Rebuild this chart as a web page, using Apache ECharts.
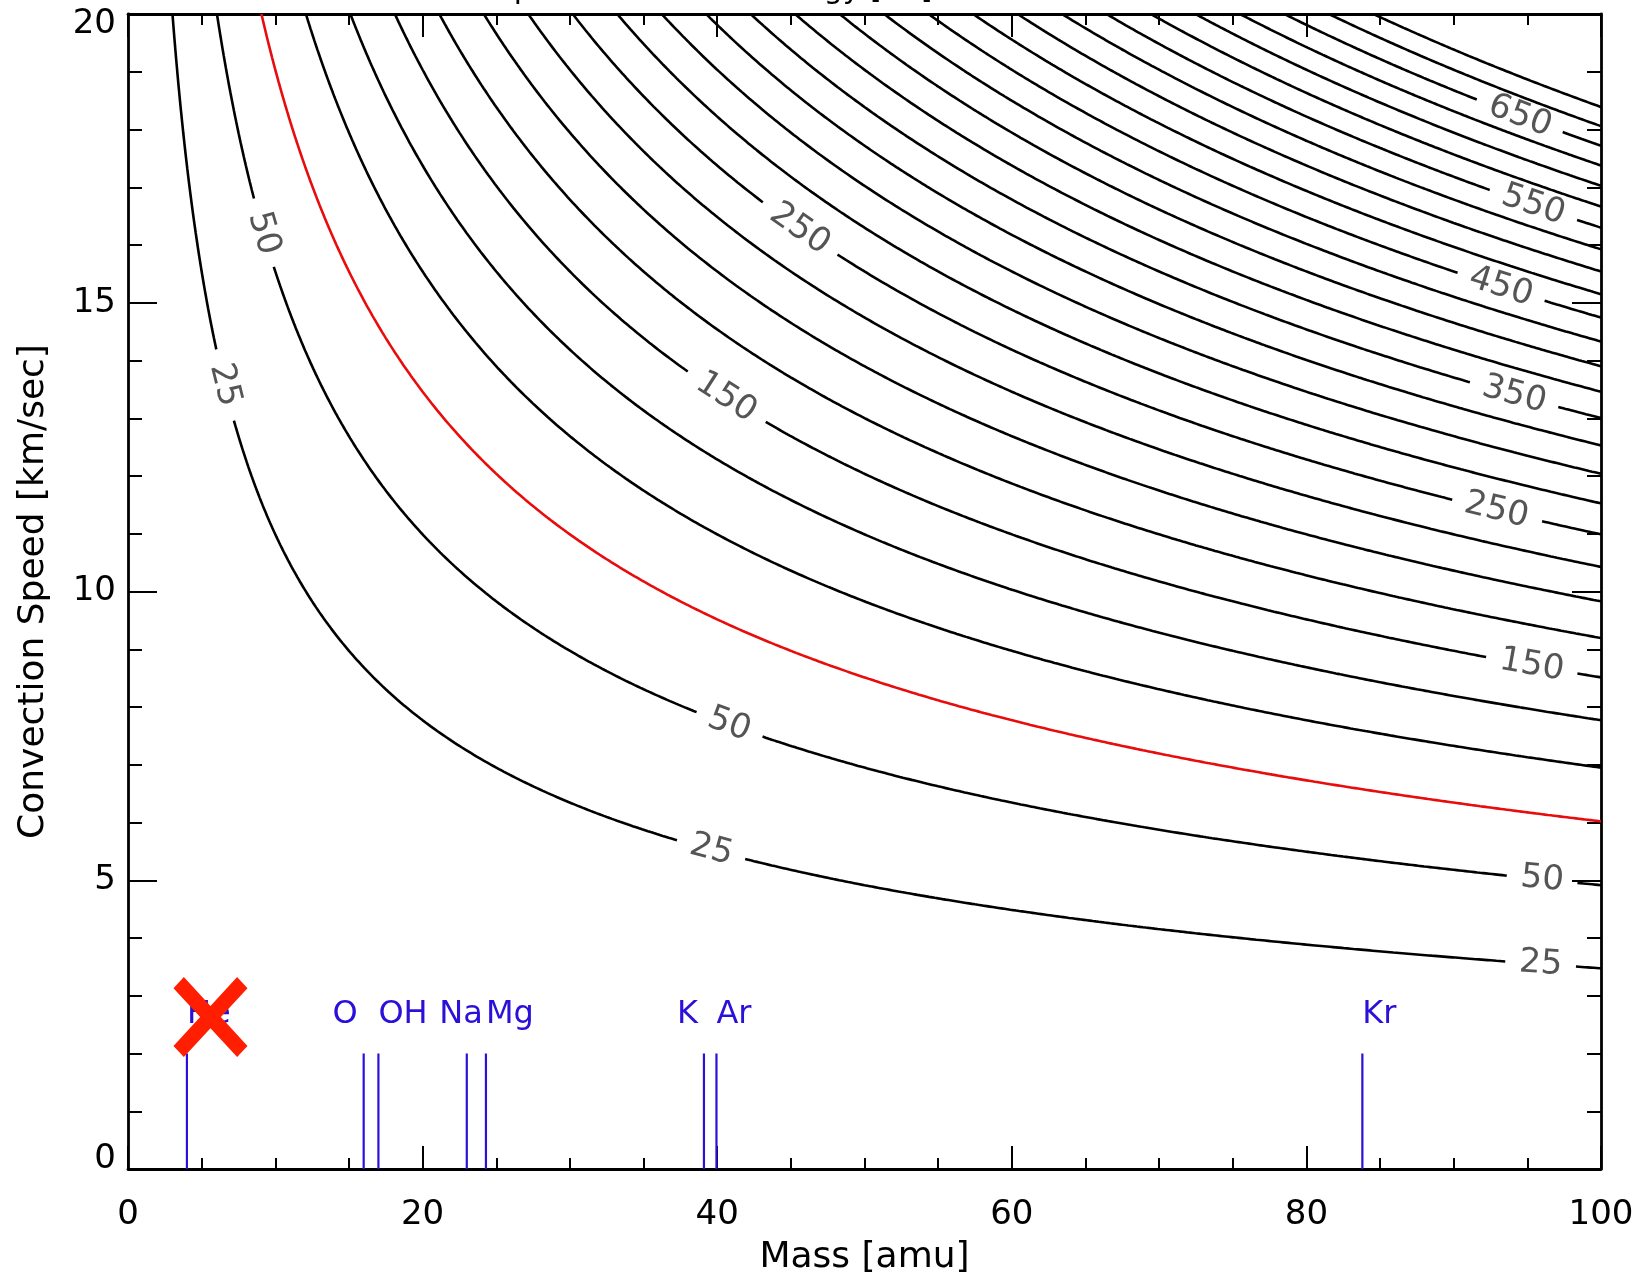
<!DOCTYPE html>
<html><head><meta charset="utf-8">
<script src="https://cdn.jsdelivr.net/npm/echarts@6/dist/echarts.min.js"></script>
<style>html,body{margin:0;padding:0;background:#fff;}#c{width:1651px;height:1283px;}</style>
</head><body><div id="c"></div>
<script>
// ---------------- data ----------------
const xTickValues = [0, 20, 40, 60, 80, 100];
const yTickValues = [0, 5, 10, 15, 20];
// contour levels (energy, eV): step 25, 25..700
const contourLevels = [25, 50, 75, 100, 125, 150, 175, 200, 225, 250, 275, 300, 325, 350,
  375, 400, 425, 450, 475, 500, 525, 550, 575, 600, 625, 650, 675, 700];
const highlightLevel = 75;            // drawn in red
const energyPerAmuKms2 = 0.0207;      // E = k * m * v^2 (fitted from curve positions)
// contour labels: level and the mass where the label sits
const contourLabelLevels = [25, 50, 25, 50, 150, 250, 25, 50, 150, 250, 350, 450, 550, 650];
const contourLabelMass   = [6.55, 9.2, 39.6, 40.8, 40.6, 45.6, 95.9, 96.0, 95.3, 92.9, 94.1, 93.2, 95.4, 94.5];
// species markers
const speciesNames = ['He', 'O', 'OH', 'Na', 'Mg', 'K', 'Ar', 'Kr'];
const speciesMass  = [4.0, 16.0, 17.0, 23.0, 24.3, 39.1, 39.95, 83.8];
const speciesLineTop = 2;             // km/s
const speciesLabelSpeed = 2.68;       // km/s
const heCross = [5.6, 2.63];          // red cross drawn over the He label
const topTitle = 'Pickup Ion Maximum Energy [eV]';

// ---------------- styles ----------------
const speciesAlign  = ['left', 'right', 'left', 'right', 'left', 'right', 'left', 'left'];
const speciesOffset = [0, -6, 0, 16, 0, -6, 0, 0];
const BLUE = '#2a10d8';
const RED = '#e80c0c';
const FONT = 'DejaVu Sans';

const chart = echarts.init(document.getElementById('c'));
const xMin = xTickValues[0], xMax = xTickValues[xTickValues.length - 1];
const yMin = yTickValues[0], yMax = yTickValues[yTickValues.length - 1];
const xInt = xTickValues[1] - xTickValues[0], yInt = yTickValues[1] - yTickValues[0];

function axisBase(extra) {
  return Object.assign({
    type: 'value',
    axisLine: { show: true, onZero: false, lineStyle: { color: '#000', width: 2.8 } },
    splitLine: { show: false }
  }, extra);
}
const tickStyle = { color: '#000', width: 2 };
const baseOption = {
  animation: false,
  backgroundColor: '#fff',
  grid: { left: 128, right: 50, top: 14, bottom: 114, containLabel: false, outerBoundsMode: 'none' },
  xAxis: [
    axisBase({
      min: xMin, max: xMax, interval: xInt, position: 'bottom',
      axisTick: { show: true, inside: true, length: 23, lineStyle: tickStyle },
      minorTick: { show: true, splitNumber: 4, length: 11, lineStyle: tickStyle },
      axisLabel: { show: true, fontSize: 34, fontFamily: FONT, color: '#000', margin: 29 },
      name: 'Mass [amu]', nameLocation: 'middle', nameGap: 71,
      nameTextStyle: { fontSize: 36, fontFamily: FONT, color: '#000' }
    }),
    axisBase({
      min: xMin, max: xMax, interval: xInt, position: 'top',
      axisTick: { show: true, inside: true, length: 23, lineStyle: tickStyle },
      minorTick: { show: true, splitNumber: 4, length: 11, lineStyle: tickStyle },
      axisLabel: { show: false }
    })
  ],
  yAxis: [
    axisBase({
      min: yMin, max: yMax, interval: yInt, position: 'left',
      axisTick: { show: true, inside: true, length: 29, lineStyle: tickStyle },
      minorTick: { show: true, splitNumber: 5, length: 14, lineStyle: tickStyle },
      axisLabel: { show: true, fontSize: 34, fontFamily: FONT, color: '#000', margin: 12, lineHeight: 20,
        verticalAlignMaxLabel: 'top', verticalAlignMinLabel: 'bottom' },
      name: 'Convection Speed [km/sec]', nameLocation: 'middle', nameRotate: 90, nameGap: 76,
      nameTextStyle: { fontSize: 36, fontFamily: FONT, color: '#000' }
    }),
    axisBase({
      min: yMin, max: yMax, interval: yInt, position: 'right',
      axisTick: { show: true, inside: true, length: 29, lineStyle: tickStyle },
      minorTick: { show: true, splitNumber: 5, length: 14, lineStyle: tickStyle },
      axisLabel: { show: false }
    })
  ],
  series: []
};
chart.setOption(baseOption);

// pixel scale for label placement / gaps
const p0 = chart.convertToPixel({ gridIndex: 0 }, [xMin, yMin]);
const p1 = chart.convertToPixel({ gridIndex: 0 }, [xMax, yMax]);
const sx = (p1[0] - p0[0]) / (xMax - xMin), sy = (p0[1] - p1[1]) / (yMax - yMin);
const toPx = (m, v) => [p0[0] + (m - xMin) * sx, p0[1] - (v - yMin) * sy];
const speed = (E, m) => Math.sqrt(E / (energyPerAmuKms2 * m));

const LABEL_FS = 34;
const labels = contourLabelLevels.map((lev, i) => {
  const m = contourLabelMass[i], v = speed(lev, m);
  const a = toPx(m * 0.995, speed(lev, m * 0.995)), b = toPx(m * 1.005, speed(lev, m * 1.005));
  const ang = Math.atan2(b[1] - a[1], b[0] - a[0]);
  const nd = String(lev).length;
  return { lev, m, v, px: toPx(m, v), rot: -ang * 180 / Math.PI, r: nd * 0.636 * LABEL_FS / 2 + 13 };
});

function sampleMasses(mStart, mEnd) {
  const s = new Set();
  const N = 500;
  for (let i = 0; i <= N; i++) s.add(+(mStart * Math.pow(mEnd / mStart, i / N)).toFixed(5));
  for (let m = Math.ceil(mStart * 10) / 10; m <= mEnd + 1e-9; m += 0.1) s.add(+m.toFixed(5));
  return Array.from(s).sort((a, b) => a - b);
}

const series = [];
contourLevels.forEach(lev => {
  const mStart = lev / (energyPerAmuKms2 * yMax * yMax);
  const mine = labels.filter(l => l.lev === lev);
  const data = sampleMasses(mStart, xMax).map(m => {
    const v = speed(lev, m);
    const q = toPx(m, v);
    for (const l of mine) {
      if (Math.hypot(q[0] - l.px[0], q[1] - l.px[1]) < l.r) return [m, null];
    }
    return [m, v];
  });
  series.push({
    type: 'line', data, showSymbol: false, connectNulls: false, silent: true,
    lineStyle: { color: lev === highlightLevel ? RED : '#000', width: 2.6 },
    z: lev === highlightLevel ? 3 : 2
  });
});

series.push({
  type: 'scatter', symbolSize: 0, silent: true, z: 5,
  data: labels.map(l => ({ name: String(l.lev), value: [l.m, l.v], label: { rotate: l.rot } })),
  label: { show: true, position: 'inside', formatter: '{b}', fontSize: LABEL_FS, fontFamily: FONT,
    fontWeight: 'normal', color: '#2a2a2a', align: 'center', verticalAlign: 'middle' }
});

series.push({
  type: 'custom', silent: true, z: 6,
  data: speciesMass.map(m => [m, speciesLineTop]),
  renderItem: (params, api) => {
    const i = params.dataIndex;
    const m = api.value(0);
    const a = api.coord([m, yMin]), b = api.coord([m, api.value(1)]);
    const t = api.coord([m, speciesLabelSpeed]);
    return {
      type: 'group', children: [
        { type: 'line', shape: { x1: a[0], y1: a[1], x2: b[0], y2: b[1] }, style: { stroke: BLUE, lineWidth: 2.2 } },
        { type: 'text', x: t[0] + speciesOffset[i], y: t[1],
          style: { text: speciesNames[i], fill: BLUE, font: '32px "DejaVu Sans"', align: speciesAlign[i], verticalAlign: 'middle' } }
      ]
    };
  }
});

series.push({
  type: 'scatter', silent: true, z: 10,
  symbol: 'path://M0,14 L14,0 L50,36 L86,0 L100,14 L64,50 L100,86 L86,100 L50,64 L14,100 L0,86 L36,50 Z',
  symbolSize: [74, 80], symbolKeepAspect: false,
  itemStyle: { color: '#ff1e00', opacity: 1 },
  data: [heCross]
});

chart.setOption({
  series,
  graphic: [{
    type: 'text', x: 436, y: -10, silent: true,
    style: { text: topTitle, font: '30px "DejaVu Sans"', fill: '#000', align: 'left', verticalAlign: 'middle' }
  }]
});
</script></body></html>
